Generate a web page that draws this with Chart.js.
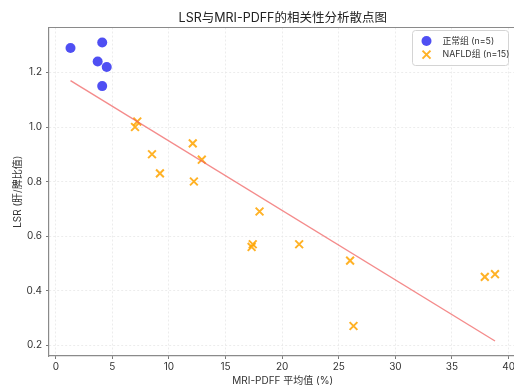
<!DOCTYPE html>
<html lang="zh">
<head>
    <meta charset="UTF-8">
    <title>LSR与MRI-PDFF的相关性分析散点图</title>
    <script src="https://cdn.jsdelivr.net/npm/chart.js"></script>
    <style>
        html, body { margin: 0; padding: 0; overflow: hidden; background: #fff; }
        #wrap { width: 524px; height: 385px; }
    </style>
</head>
<body>
    <div id="wrap"><canvas id="scatterChart"></canvas></div>

    <script>
        const FONT = 'Inter, "Noto Sans CJK SC", sans-serif';

        // 正常组
        const normalX = [1.3, 4.1, 3.7, 4.5, 4.1];
        const normalY = [1.29, 1.31, 1.24, 1.22, 1.15];
        // NAFLD组
        const nafldX = [7.2, 7.0, 8.5, 9.2, 12.1, 12.2, 12.9, 17.4, 17.3, 18.0, 21.5, 26.0, 26.3, 37.9, 38.8];
        const nafldY = [1.02, 1.00, 0.90, 0.83, 0.94, 0.80, 0.88, 0.57, 0.56, 0.69, 0.57, 0.51, 0.27, 0.45, 0.46];
        // 拟合线
        const fitX = [1.3, 38.8];
        const fitY = [1.17, 0.215];

        const xTicks = [0, 5, 10, 15, 20, 25, 30, 35, 40];
        const yTicks = [0.2, 0.4, 0.6, 0.8, 1.0, 1.2];

        const toPoints = (xs, ys) => xs.map((x, i) => ({ x: x, y: ys[i] }));

        // 图例框 (右上角)
        const legendBox = {
            id: 'legendBox',
            afterDatasetsDraw(chart) {
                const ctx = chart.ctx;
                const area = chart.chartArea;
                const w = 96, h = 35;
                const left = area.right - 8 - w;
                const top = area.top + 3;
                ctx.save();
                ctx.beginPath();
                ctx.roundRect(left, top, w, h, 3);
                ctx.fillStyle = 'rgba(255,255,255,0.85)';
                ctx.fill();
                ctx.strokeStyle = '#d4d4d4';
                ctx.lineWidth = 1;
                ctx.stroke();
                ctx.font = '8.8px ' + FONT;
                ctx.textBaseline = 'middle';
                chart.data.datasets.slice(0, 2).forEach((ds, i) => {
                    const cx = left + 14;
                    const cy = top + 10.5 + i * 13.6;
                    ctx.fillStyle = ds.backgroundColor;
                    ctx.strokeStyle = ds.borderColor;
                    ctx.lineWidth = 2;
                    ctx.beginPath();
                    if (ds.pointStyle === 'circle') {
                        ctx.arc(cx, cy, 5, 0, Math.PI * 2);
                        ctx.fill();
                    } else {
                        ctx.moveTo(cx - 4, cy - 4); ctx.lineTo(cx + 4, cy + 4);
                        ctx.moveTo(cx + 4, cy - 4); ctx.lineTo(cx - 4, cy + 4);
                        ctx.stroke();
                    }
                    ctx.fillStyle = '#333';
                    ctx.fillText(ds.label, left + 30, cy);
                });
                ctx.restore();
            }
        };

        // 顶部和右侧边框
        const frame = {
            id: 'frame',
            afterDraw(chart) {
                const ctx = chart.ctx;
                const a = chart.chartArea;
                ctx.save();
                ctx.strokeStyle = '#8a8a8a';
                ctx.lineWidth = 1.2;
                ctx.beginPath();
                ctx.moveTo(a.left, a.top);
                ctx.lineTo(a.right, a.top);
                ctx.lineTo(a.right, a.bottom);
                ctx.stroke();
                ctx.restore();
            }
        };

        new Chart(document.getElementById('scatterChart'), {
            type: 'scatter',
            data: {
                datasets: [
                    {
                        label: '正常组 (n=5)',
                        data: toPoints(normalX, normalY),
                        pointStyle: 'circle',
                        pointRadius: 5,
                        backgroundColor: 'rgba(35,35,240,0.8)',
                        borderColor: 'rgba(35,35,240,0.8)',
                        borderWidth: 0
                    },
                    {
                        label: 'NAFLD组 (n=15)',
                        data: toPoints(nafldX, nafldY),
                        pointStyle: 'crossRot',
                        pointRadius: 5.5,
                        backgroundColor: 'rgba(255,165,0,0.85)',
                        borderColor: 'rgba(255,165,0,0.85)',
                        borderWidth: 2
                    },
                    {
                        label: '拟合线',
                        data: toPoints(fitX, fitY),
                        showLine: true,
                        pointRadius: 0,
                        borderColor: 'rgba(240,90,90,0.7)',
                        borderWidth: 1.4,
                        order: -1
                    }
                ]
            },
            options: {
                responsive: true,
                maintainAspectRatio: false,
                animation: false,
                layout: { padding: { left: 0, right: 6, top: 0, bottom: 0 } },
                plugins: {
                    legend: { display: false },
                    tooltip: { enabled: false },
                    title: {
                        display: true,
                        text: 'LSR与MRI-PDFF的相关性分析散点图',
                        fullSize: false,
                        color: '#222',
                        font: { family: FONT, size: 12.5, weight: 'normal', lineHeight: 1.2 },
                        padding: { top: 10.5, bottom: 2 }
                    }
                },
                scales: {
                    x: {
                        type: 'linear',
                        min: -0.6,
                        max: 40.7,
                        afterFit(scale) { scale.height = 29; },
                        afterBuildTicks(scale) { scale.ticks = xTicks.map(v => ({ value: v })); },
                        ticks: {
                            color: '#333',
                            padding: 2,
                            font: { family: FONT, size: 10 },
                            callback: v => v.toString()
                        },
                        grid: {
                            color: '#e8e8e8',
                            lineWidth: 0.8,
                            tickColor: '#777',
                            tickLength: 3,
                            tickWidth: 1,
                            tickBorderDash: []
                        },
                        border: { display: true, color: '#8a8a8a', width: 1.2, dash: [2, 2] },
                        title: {
                            display: true,
                            text: 'MRI-PDFF 平均值 (%)',
                            color: '#333',
                            font: { family: FONT, size: 10, lineHeight: 0.8 },
                            padding: { top: 0, bottom: 0 }
                        }
                    },
                    y: {
                        type: 'linear',
                        min: 0.16,
                        max: 1.365,
                        afterFit(scale) { scale.width = 49; },
                        afterBuildTicks(scale) { scale.ticks = yTicks.map(v => ({ value: v })); },
                        ticks: {
                            color: '#333',
                            padding: 4,
                            font: { family: FONT, size: 10 },
                            callback: v => v.toFixed(1)
                        },
                        grid: {
                            color: '#e8e8e8',
                            lineWidth: 0.8,
                            tickColor: '#777',
                            tickLength: 3,
                            tickWidth: 1,
                            tickBorderDash: []
                        },
                        border: { display: true, color: '#8a8a8a', width: 1.2, dash: [2, 2] },
                        title: {
                            display: true,
                            text: 'LSR (肝/脾比值)',
                            color: '#333',
                            font: { family: FONT, size: 10, lineHeight: 1.2 },
                            padding: { top: 12, bottom: 0 }
                        }
                    }
                }
            },
            plugins: [frame, legendBox]
        });
    </script>
</body>
</html>
